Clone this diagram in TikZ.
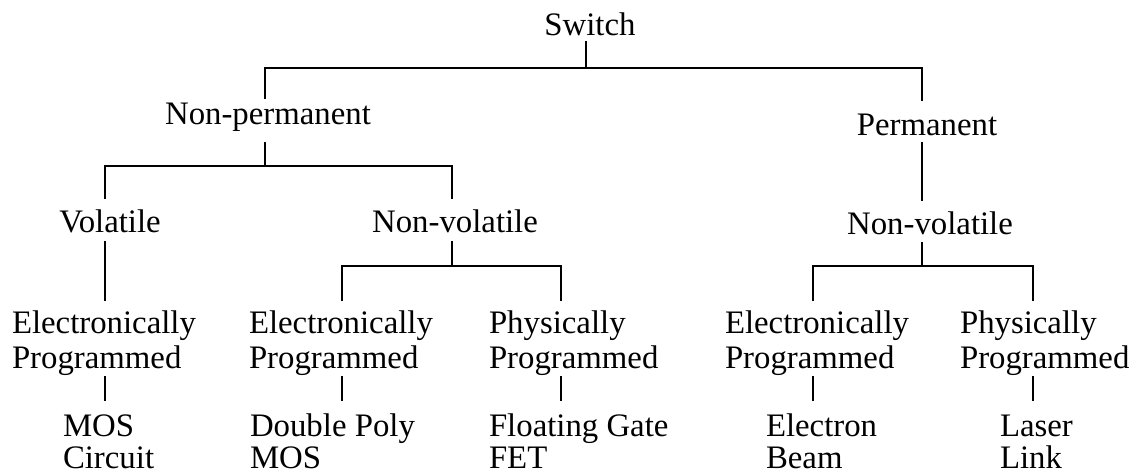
\documentclass[tikz,border=0pt]{standalone}
\usepackage{fontspec}
\setmainfont{Liberation Serif}
\begin{document}
\begin{tikzpicture}[x=0.5pt,y=-0.5pt,
  lbl/.style={inner sep=0pt, outer sep=0pt, anchor=base,
    font=\fontsize{16.4}{17.5}\selectfont},
  lblL/.style={lbl, anchor=base west},
  pair/.style={lblL, font=\fontsize{16.4}{17.5}\selectfont},
  leaf/.style={lblL, font=\fontsize{16.4}{16.2}\selectfont},
  link/.style={line width=0.8pt, line cap=rect}]
\useasboundingbox (0,0) rectangle (1139,473);

% --- level 0 and 1 ---
\node[lbl] (sw)   at (590,35)  {Switch};
\node[lbl] (np)   at (268,124) {Non-permanent};
\node[lbl] (perm) at (927,135) {Permanent};

% --- level 2 ---
\node[lbl] (vol)   at (110,232) {Volatile};
\node[lbl] (nvL)   at (455,232) {Non-volatile};
\node[lbl] (nvR)   at (930,234) {Non-volatile};

% --- level 3: programming method ---
\newcommand{\twoline}[2]{\begin{tabular}[t]{@{}l@{}}#1\\#2\end{tabular}}
\node[pair] (ep1) at (12,333)  {\twoline{Electronically}{Programmed}};
\node[pair] (ep2) at (249,333) {\twoline{Electronically}{Programmed}};
\node[pair] (pp3) at (489,333) {\twoline{Physically}{Programmed}};
\node[pair] (ep4) at (725,333) {\twoline{Electronically}{Programmed}};
\node[pair] (pp5) at (960,333) {\twoline{Physically}{Programmed}};

% --- level 4: technology ---
\node[leaf] (t1) at (63,436)   {\twoline{MOS}{Circuit}};
\node[leaf] (t2) at (250,436)  {\twoline{Double Poly}{MOS}};
\node[leaf] (t3) at (489,436)  {\twoline{Floating Gate}{FET}};
\node[leaf] (t4) at (766,436)  {\twoline{Electron}{Beam}};
\node[leaf] (t5) at (1000,436) {\twoline{Laser}{Link}};

% --- junction points of the tree ---
\coordinate (sw-s)   at (586,42);
\coordinate (bar0L)  at (265,68);
\coordinate (bar0R)  at (922,68);
\coordinate (np-n)   at (265,98);
\coordinate (perm-n) at (922,100);

\coordinate (np-s)   at (265,143);
\coordinate (bar1L)  at (105,166);
\coordinate (bar1R)  at (452,166);
\coordinate (vol-n)  at (105,198);
\coordinate (nvL-n)  at (452,198);

\coordinate (perm-s) at (922,143);
\coordinate (nvR-n)  at (922,200);

\coordinate (vol-s)  at (105,242);
\coordinate (ep1-n)  at (105,300);

\coordinate (nvL-s)  at (452,242);
\coordinate (bar2L)  at (342,266);
\coordinate (bar2R)  at (561,266);
\coordinate (ep2-n)  at (342,300);
\coordinate (pp3-n)  at (561,300);

\coordinate (nvR-s)  at (922,243);
\coordinate (bar3L)  at (813,266);
\coordinate (bar3R)  at (1033,266);
\coordinate (ep4-n)  at (813,300);
\coordinate (pp5-n)  at (1033,300);

% --- connectors ---
\draw[link] (sw-s) -- (sw-s |- bar0L);
\draw[link] (np-n) -- (bar0L) -- (bar0R) -- (perm-n);

\draw[link] (np-s) -- (np-s |- bar1L);
\draw[link] (vol-n) -- (bar1L) -- (bar1R) -- (nvL-n);

\draw[link] (perm-s) -- (nvR-n);

\draw[link] (vol-s) -- (ep1-n);

\draw[link] (nvL-s) -- (nvL-s |- bar2L);
\draw[link] (ep2-n) -- (bar2L) -- (bar2R) -- (pp3-n);

\draw[link] (nvR-s) -- (nvR-s |- bar3L);
\draw[link] (ep4-n) -- (bar3L) -- (bar3R) -- (pp5-n);

% short stems from method to technology
\foreach \x/\n in {105/1,342/2,561/3,813/4,1033/5}
  \draw[link] (\x,377) coordinate (m\n-s) -- (\x,400) coordinate (tech\n-n);
\end{tikzpicture}
\end{document}
